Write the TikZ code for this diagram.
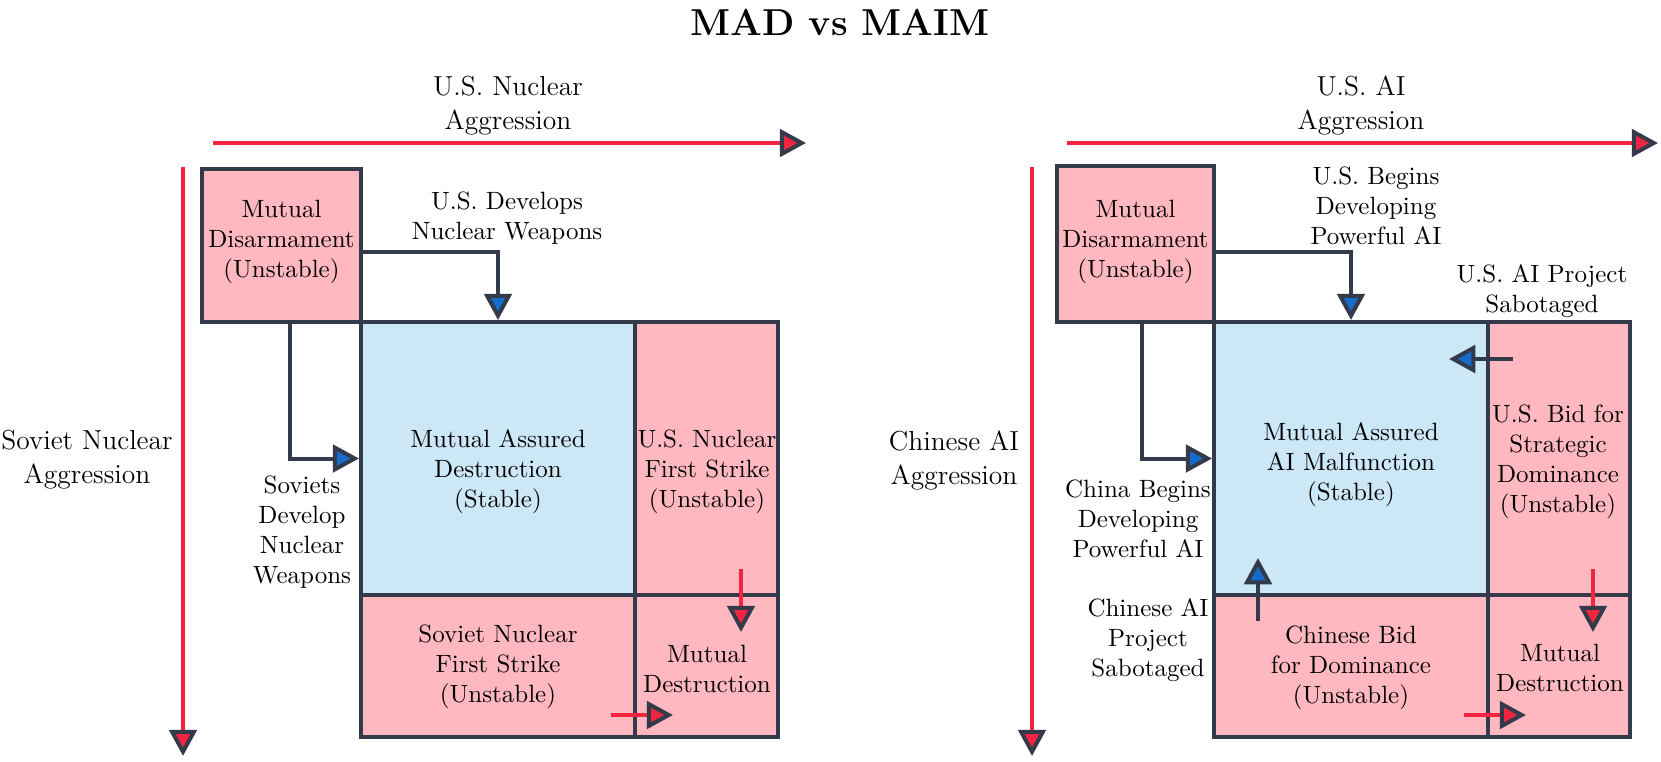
\documentclass[tikz,border=0pt]{standalone}
\usetikzlibrary{arrows.meta}
\definecolor{dk}{HTML}{333B4B}
\definecolor{pk}{HTML}{FFB8BF}
\definecolor{lb}{HTML}{CCE7F6}
\definecolor{rd}{HTML}{F2243F}
\definecolor{bl}{HTML}{176BCB}
\tikzset{
  cell/.style n args={2}{draw=dk, line width=1.6pt, inner sep=0pt,
     minimum width=#1*0.4pt, minimum height=#2*0.4pt},
  pinkcell/.style={fill=pk},
  bluecell/.style={fill=lb},
  txt/.style={align=center, inner sep=0pt, font=\fontsize{10}{12}\selectfont},
  axtxt/.style={align=center, inner sep=0pt, font=\fontsize{11}{13.6}\selectfont},
  axisarrow/.style={draw=rd, line width=1.4pt,
     -{Triangle[length=10.5pt,width=11pt,color=dk,fill=rd,line width=1.6pt]}},
  redarrow/.style={draw=rd, line width=1.4pt,
     -{Triangle[length=10.5pt,width=11pt,color=dk,fill=rd,line width=1.6pt]}},
  conn/.style={draw=dk, line width=1.6pt,
     -{Triangle[length=10.5pt,width=11pt,color=dk,fill=bl]}},
}
\begin{document}
\begin{tikzpicture}[x=0.4pt,y=-0.4pt]
\useasboundingbox (0,0) rectangle (1661,761);
% title
\node[inner sep=0pt, font=\fontsize{15}{18}\selectfont\bfseries] (title) at (840,22) {MAD vs MAIM};

%% ---------------- left diagram ----------------
\coordinate (lxa) at (213,143);
\coordinate (lxb) at (806,143);
\coordinate (lya) at (183,167);
\coordinate (lyb) at (183,756);
\draw[axisarrow] (lxa) -- (lxb);
\draw[axisarrow] (lya) -- (lyb);
\node[axtxt] (lxlab) at (508,105.5) {U.S. Nuclear\\Aggression};
\node[axtxt] (lylab) at (87,460) {Soviet Nuclear\\Aggression};

\node[cell={159}{153}, pinkcell] (lmd) at (281.5,245.5) {};
\node[cell={274}{273}, bluecell] (lmad) at (498,458.5) {};
\node[cell={143}{273}, pinkcell] (lusfs) at (706.5,458.5) {};
\node[cell={274}{142}, pinkcell] (lsvfs) at (498,666) {};
\node[cell={143}{142}, pinkcell] (lmdes) at (706.5,666) {};

\node[txt] (lmdt) at (281.5,242) {Mutual\\Disarmament\\(Unstable)};
\node[txt] (lmadt) at (498,472) {Mutual Assured\\Destruction\\(Stable)};
\node[txt] (lusfst) at (707,472) {U.S. Nuclear\\First Strike\\(Unstable)};
\node[txt] (lsvfst) at (498,667) {Soviet Nuclear\\First Strike\\(Unstable)};
\node[txt] (lmdest) at (707,668.5) {Mutual\\Destruction};

\draw[conn] ([yshift=-2.6pt]lmd.east) -| (lmad.north);
\draw[conn] ([xshift=3.4pt]lmd.south) |- (lmad.west);
\node[txt] (lusdev) at (507,218) {U.S. Develops\\Nuclear Weapons};
\node[txt] (lsvdev) at (302,532) {Soviets\\Develop\\Nuclear\\Weapons};

\coordinate (lra1) at (741,569);
\coordinate (lra2) at (741,632);
\coordinate (lrb1) at (611,715);
\coordinate (lrb2) at (673,715);
\draw[redarrow] (lra1) -- (lra2);
\draw[redarrow] (lrb1) -- (lrb2);

%% ---------------- right diagram ----------------
\coordinate (rxa) at (1067,143);
\coordinate (rxb) at (1658,143);
\coordinate (rya) at (1032,167);
\coordinate (ryb) at (1032,756);
\draw[axisarrow] (rxa) -- (rxb);
\draw[axisarrow] (rya) -- (ryb);
\node[axtxt] (rxlab) at (1361,105.5) {U.S. AI\\Aggression};
\node[axtxt] (rylab) at (954,460) {Chinese AI\\Aggression};

\node[cell={157}{156}, pinkcell] (rmd) at (1135.5,244) {};
\node[cell={274}{273}, bluecell] (rmad) at (1351,458.5) {};
\node[cell={142}{273}, pinkcell] (rusb) at (1559,458.5) {};
\node[cell={274}{142}, pinkcell] (rcnb) at (1351,666) {};
\node[cell={142}{142}, pinkcell] (rmdes) at (1559,666) {};

\node[txt] (rmdt) at (1135.5,242) {Mutual\\Disarmament\\(Unstable)};
\node[txt] (rmadt) at (1351,465) {Mutual Assured\\AI Malfunction\\(Stable)};
\node[txt] (rusbt) at (1558,461.5) {U.S. Bid for\\Strategic\\Dominance\\(Unstable)};
\node[txt] (rcnbt) at (1351,668) {Chinese Bid\\for Dominance\\(Unstable)};
\node[txt] (rmdest) at (1560,667.5) {Mutual\\Destruction};

\draw[conn] ([yshift=-3.2pt]rmd.east) -| (rmad.north);
\draw[conn] ([xshift=2.6pt]rmd.south) |- (rmad.west);
\node[txt] (rusbeg) at (1376,206) {U.S. Begins\\Developing\\Powerful AI};
\node[txt] (rcnbeg) at (1138,519) {China Begins\\Developing\\Powerful AI};
\node[txt] (russab) at (1542,291.5) {U.S. AI Project\\Sabotaged};
\node[txt] (rcnsab) at (1148,640) {Chinese AI\\Project\\Sabotaged};

\coordinate (rba1) at (1513,359);
\coordinate (rba2) at (1449,359);
\coordinate (rbb1) at (1258,621);
\coordinate (rbb2) at (1258,558);
\draw[conn] (rba1) -- (rba2);
\draw[conn] (rbb1) -- (rbb2);

\coordinate (rra1) at (1593,569);
\coordinate (rra2) at (1593,632);
\coordinate (rrb1) at (1464,715);
\coordinate (rrb2) at (1526,715);
\draw[redarrow] (rra1) -- (rra2);
\draw[redarrow] (rrb1) -- (rrb2);
\end{tikzpicture}
\end{document}
